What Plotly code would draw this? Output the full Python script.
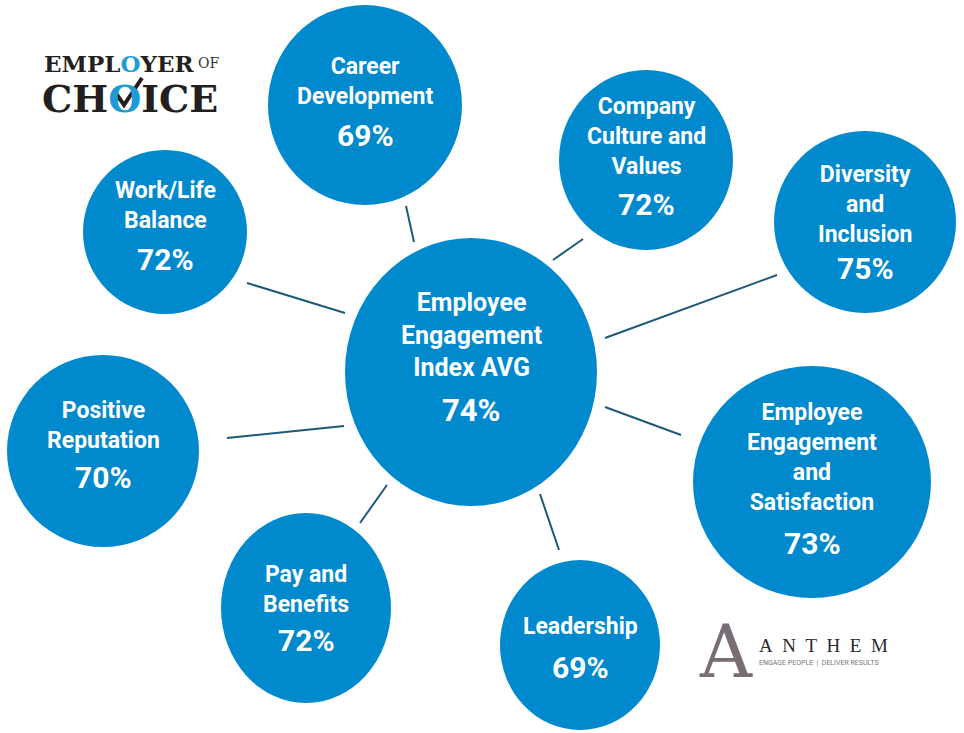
import plotly.graph_objects as go

# Survey results (Employer of Choice, Employee Engagement Index)
labels = ["Employee<br>Engagement<br>Index AVG", "Career<br>Development",
          "Company<br>Culture and<br>Values", "Diversity<br>and<br>Inclusion",
          "Employee<br>Engagement<br>and<br>Satisfaction", "Leadership",
          "Pay and<br>Benefits", "Positive<br>Reputation", "Work/Life<br>Balance"]
scores = [74, 69, 72, 75, 73, 69, 72, 70, 72]

# bubble layout (pixel space of the 964x733 canvas)
bubble_x = [471, 365, 646, 865, 812, 580, 306, 103, 165]
bubble_y = [372, 105, 160, 222, 482, 645, 608, 451, 232]
bubble_rx = [126, 97, 87, 91, 119, 80, 85, 96, 82]
bubble_ry = [134, 100, 90, 91, 116, 85, 95, 96, 82]
label_y = [335, 81, 136, 204, 457, 626, 589, 425, 205]
pct_y = [410, 135, 204, 268, 543, 667, 640, 477, 259]

# connector stubs between the hub and each bubble
link_x0 = [406, 583, 777, 605, 540, 387, 344, 345]
link_y0 = [206, 239, 275, 407, 494, 485, 426, 313]
link_x1 = [414, 553, 605, 681, 559, 360, 227, 247]
link_y1 = [242, 260, 338, 435, 550, 523, 438, 283]

BLUE = "#0089cc"
LINE = "#1d5a7a"
FONT = "Roboto"

fig = go.Figure()

lx, ly = [], []
for a, b, c, d in zip(link_x0, link_y0, link_x1, link_y1):
    lx += [a, c, None]
    ly += [b, d, None]
fig.add_trace(go.Scatter(x=lx, y=ly, mode="lines", line=dict(color=LINE, width=2),
                         hoverinfo="skip", showlegend=False))

for i in range(len(labels)):
    fig.add_shape(type="circle", xref="x", yref="y",
                  x0=bubble_x[i] - bubble_rx[i], x1=bubble_x[i] + bubble_rx[i],
                  y0=bubble_y[i] - bubble_ry[i], y1=bubble_y[i] + bubble_ry[i],
                  fillcolor=BLUE, line=dict(width=0), layer="below")
    big = i == 0
    fig.add_annotation(x=bubble_x[i], y=label_y[i], text=labels[i], showarrow=False,
                       font=dict(family=FONT, size=25 if big else 23, color="white", weight=700),
                       xanchor="center", yanchor="middle")
    fig.add_annotation(x=bubble_x[i], y=pct_y[i], text=f"{scores[i]}%", showarrow=False,
                       font=dict(family=FONT, size=31 if big else 30, color="white", weight=700),
                       xanchor="center", yanchor="middle")

# Employer of Choice logo
fig.add_annotation(x=42, y=63, text="EMPL<span style='color:#1e9bd7'>O</span>YER", showarrow=False,
                   xanchor="left", yanchor="middle",
                   font=dict(family="DejaVu Serif", size=23, color="#231f20", weight=700))
fig.add_annotation(x=196, y=63, text="OF", showarrow=False, xanchor="left", yanchor="middle",
                   font=dict(family="DejaVu Serif", size=14, color="#333333"))
fig.add_annotation(x=40, y=98, text="CH<span style='color:#1e9bd7'>O</span>ICE", showarrow=False,
                   xanchor="left", yanchor="middle",
                   font=dict(family="DejaVu Serif", size=38, color="#231f20", weight=700))
fig.add_shape(type="path", xref="x", yref="y", path="M 115 92 L 124 105 L 142 78",
              line=dict(color="#231f20", width=4))

# Anthem logo
fig.add_annotation(x=726, y=652, text="A", showarrow=False, xanchor="center", yanchor="middle",
                   font=dict(family="DejaVu Serif", size=72, color="#7a6e76"))
fig.add_annotation(x=757, y=645, text="A\u00a0\u00a0N\u00a0\u00a0T\u00a0\u00a0H\u00a0\u00a0E\u00a0\u00a0M",
                   showarrow=False, xanchor="left", yanchor="middle",
                   font=dict(family="Liberation Serif", size=19, color="#2b2b2b"))
fig.add_annotation(x=757, y=663, text="ENGAGE PEOPLE  |  DELIVER RESULTS", showarrow=False,
                   xanchor="left", yanchor="middle",
                   font=dict(family=FONT, size=7, color="#777777"))

fig.update_xaxes(range=[0, 964], visible=False, fixedrange=True)
fig.update_yaxes(range=[733, 0], visible=False, fixedrange=True)
fig.update_layout(width=964, height=733, margin=dict(l=0, r=0, t=0, b=0),
                  plot_bgcolor="white", paper_bgcolor="white", showlegend=False)

fig.write_html("out.html", config={"displayModeBar": False},
               post_script="document.body.style.margin='0';")
